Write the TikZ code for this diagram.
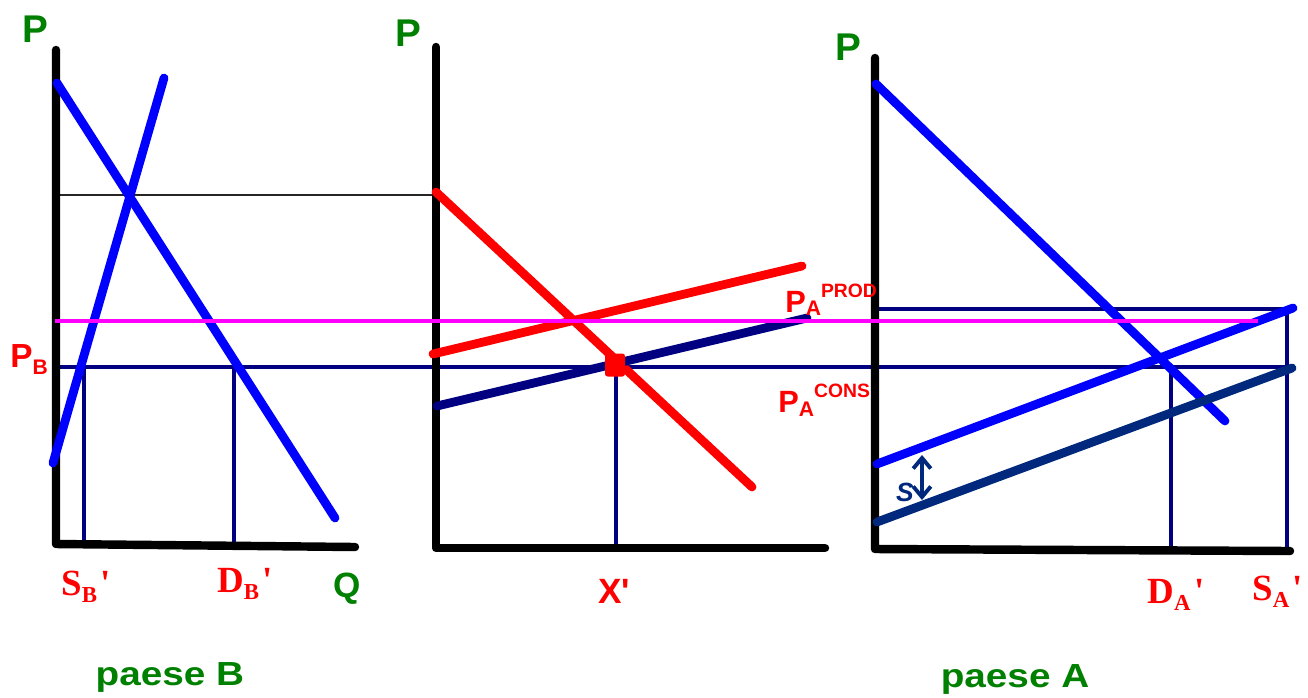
\documentclass[tikz,border=0pt]{standalone}
\usepackage{fontspec}
\usepackage{graphicx}
\setmainfont{Liberation Serif}
\setsansfont{Liberation Sans}
\newfontfamily\tnr{Liberation Serif}[Ligatures=TeXOff]
\newfontfamily\arl{Liberation Sans}[Ligatures=TeXOff]
\usetikzlibrary{arrows.meta}
\definecolor{cblue}{RGB}{0,0,255}
\definecolor{cred}{RGB}{255,0,0}
\definecolor{cnavy}{RGB}{0,0,128}
\definecolor{cdark}{RGB}{0,40,125}
\definecolor{cgreen}{RGB}{0,128,0}
\definecolor{cmag}{RGB}{255,0,255}
\begin{document}
\begin{tikzpicture}[x=0.02cm,y=-0.02cm,
  axisline/.style={line width=4.8pt,line cap=round,line join=round,black},
  curve/.style={line width=5pt,line cap=round},
  guide/.style={line width=2pt,cnavy},
  axlab/.style={text=cgreen,font=\arl\bfseries\fontsize{22}{22}\selectfont,inner sep=0},
  qlab/.style={text=cred,font=\tnr\bfseries\fontsize{21}{21}\selectfont,inner sep=0,anchor=base west},
  plab/.style={text=cred,font=\arl\bfseries,inner sep=0,anchor=base west},
  country/.style={text=cgreen,font=\arl\bfseries\fontsize{19}{19}\selectfont,inner sep=0,anchor=base}
]
\useasboundingbox (0,0) rectangle (1308,697);

% ---------- coordinates ----------
% panel B
\coordinate (bTop) at (56,50); \coordinate (bO) at (56,544); \coordinate (bEnd) at (355,547);
\coordinate (bD1) at (57,83);  \coordinate (bD2) at (335,518);
\coordinate (bS1) at (164,78); \coordinate (bS2) at (53,463);
\coordinate (bk1) at (60,195); \coordinate (bk2) at (434,195);
\coordinate (nv1) at (52,367); \coordinate (nv2) at (1292,367);
\coordinate (mg1) at (55,321); \coordinate (mg2) at (1258,321);
\coordinate (vS1) at (84,367); \coordinate (vS2) at (84,544);
\coordinate (vD1) at (234,367); \coordinate (vD2) at (234,545);
% middle panel
\coordinate (mTop) at (436,47); \coordinate (mO) at (436,548); \coordinate (mEnd) at (825,548);
\coordinate (rD1) at (436,192); \coordinate (rD2) at (752,487);
\coordinate (rS1) at (433,354); \coordinate (rS2) at (802,266);
\coordinate (nS1) at (437,406); \coordinate (nS2) at (807,318);
\coordinate (vX1) at (616,367); \coordinate (vX2) at (616,548);
% panel A
\coordinate (aTop) at (875,58); \coordinate (aO) at (875,549); \coordinate (aEnd) at (1290,551);
\coordinate (aD1) at (876,84);  \coordinate (aD2) at (1225,421);
\coordinate (aS1) at (877,464); \coordinate (aS2) at (1293,308);
\coordinate (aT1) at (877,522); \coordinate (aT2) at (1292,368);
\coordinate (ah1) at (875,309); \coordinate (ah2) at (1287,309);
\coordinate (vDA1) at (1171,367); \coordinate (vDA2) at (1171,550);
\coordinate (vSA1) at (1287,309); \coordinate (vSA2) at (1287,551);
\coordinate (ar1) at (922,455); \coordinate (ar2) at (922,500);

% ---------- thin guides ----------
\draw[line width=1.7pt,black!85] (bk1) -- (bk2);
\draw[guide] (nv1) -- (nv2);
\draw[guide] (vS1) -- (vS2);
\draw[guide] (vD1) -- (vD2);
\draw[guide] (vX1) -- (vX2);
\draw[guide] (ah1) -- (ah2);
\draw[guide] (vDA1) -- (vDA2);
\draw[guide] (vSA1) -- (vSA2);

% ---------- axes ----------
\draw[axisline] (bTop) -- (bO) -- (bEnd);
\draw[axisline] (mTop) -- (mO) -- (mEnd);
\draw[axisline] (aTop) -- (aO) -- (aEnd);

% ---------- curves ----------
\draw[curve,cblue] (bD1) -- (bD2);
\draw[curve,cblue] (bS1) -- (bS2);
\draw[curve,cred] (rD1) -- (rD2);
\draw[curve,cred] (rS1) -- (rS2);
\draw[curve,cnavy] (nS1) -- (nS2);
\draw[curve,cblue] (aD1) -- (aD2);
\draw[curve,cblue] (aS1) -- (aS2);
\draw[curve,cdark] (aT1) -- (aT2);

% magenta price line on top
\draw[line width=2.2pt,cmag] (mg1) -- (mg2);

% equilibrium marker
\node[fill=cred,rounded corners=1.5pt,minimum width=0.4cm,minimum height=0.46cm,inner sep=0] (eq) at (615,365) {};

% tariff arrow
\draw[line width=2.2pt,cdark,{Straight Barb[length=6pt,width=10pt]}-{Straight Barb[length=6pt,width=10pt]}] (ar1) -- (ar2);
\node[text=cdark,font=\arl\bfseries\itshape\fontsize{15}{15}\selectfont,inner sep=0] (slab) at (905,492) {S};

% ---------- labels ----------
\node[axlab] (pB) at (35,29) {P};
\node[axlab] (pM) at (408,33) {P};
\node[axlab] (pA) at (848,47) {P};
\node[axlab,anchor=base] (qB) at (347,597) {\fontsize{20}{20}\selectfont Q};

\node[plab] (PBl) at (10,367) {\fontsize{19}{19}\selectfont P\raisebox{-4pt}{\fontsize{12}{12}\selectfont B}};
\node[plab] (PAP) at (785,312) {\fontsize{17.5}{17.5}\selectfont P\raisebox{-2pt}{\fontsize{12}{12}\selectfont A}\raisebox{8.5pt}{\fontsize{11}{11}\selectfont PROD}};
\node[plab] (PAC) at (778,412) {\fontsize{17.5}{17.5}\selectfont P\raisebox{-2.5pt}{\fontsize{12}{12}\selectfont A}\raisebox{8pt}{\fontsize{11}{11}\selectfont CONS}};

\node[qlab] (SB) at (61,595) {S\raisebox{-4.5pt}{\fontsize{13}{13}\selectfont B}\hspace{2pt}'};
\node[qlab] (DB) at (217,592) {D\raisebox{-4.5pt}{\fontsize{13}{13}\selectfont B}\hspace{2pt}'};
\node[qlab] (DA) at (1147,603) {D\raisebox{-4.5pt}{\fontsize{13}{13}\selectfont A}\hspace{2pt}'};
\node[qlab] (SA) at (1252,600) {S\raisebox{-4.5pt}{\fontsize{13}{13}\selectfont A}\hspace{2pt}'};
\node[plab,anchor=base] (Xl) at (614,603) {\fontsize{20}{20}\selectfont X'};

\node[country] (cB) at (170,685) {\scalebox{1.16}[1]{paese B}};
\node[country] (cA) at (1015,687) {\scalebox{1.16}[1]{paese A}};
\end{tikzpicture}
\end{document}
